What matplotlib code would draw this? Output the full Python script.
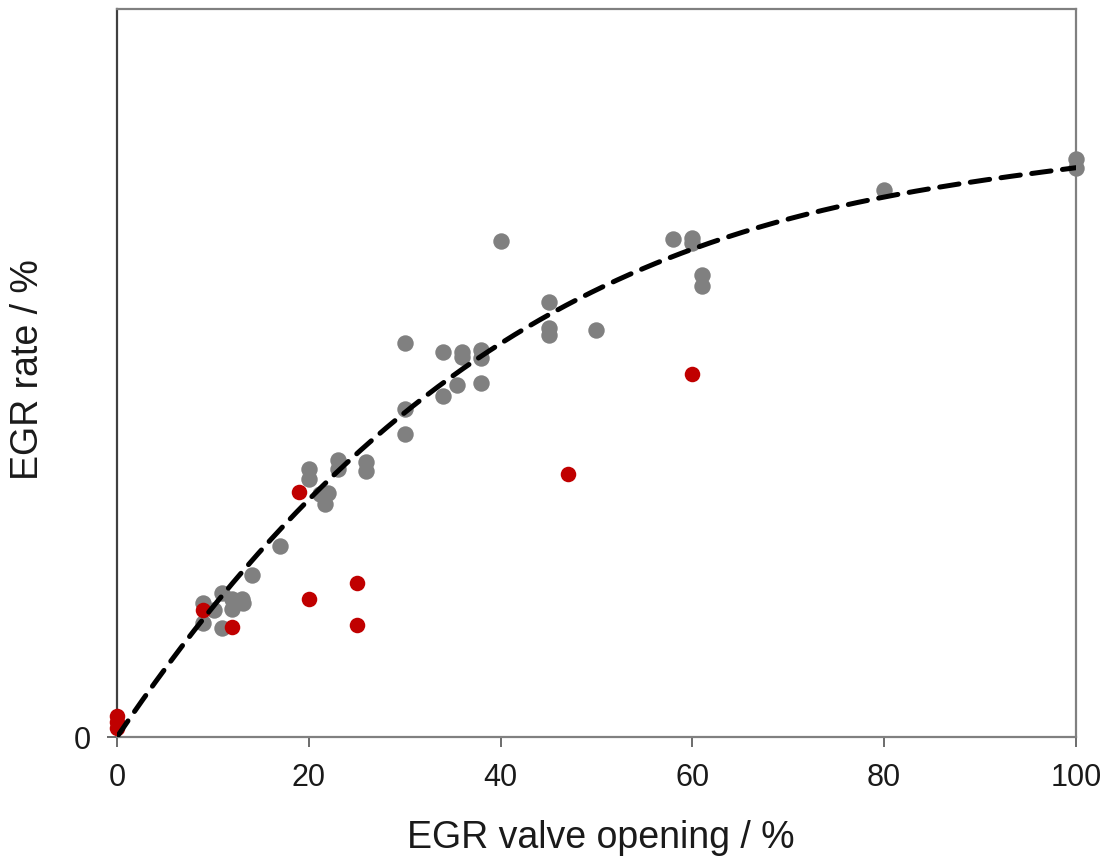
import numpy as np
import matplotlib.pyplot as plt

# measured points (valve opening %, EGR rate %)
grey_x = [9, 9, 10.1, 10.9, 10.9, 12, 13, 13.1, 12, 14.1, 17,
          20, 20, 21.2, 22, 21.7, 23, 23, 26, 26,
          30, 30, 30, 34, 36, 36, 38, 38, 35.5, 38, 34,
          40, 45, 45, 45, 50, 58, 60, 60, 61, 61, 80, 100, 100]
grey_y = [9.2, 7.85, 8.7, 9.87, 7.46, 9.45, 9.5, 9.2, 8.8, 11.1, 13.1,
          18.4, 17.75, 16.7, 16.75, 16.0, 19.0, 18.4, 18.9, 18.3,
          27.05, 22.5, 20.8, 26.45, 26.45, 26.1, 26.6, 26.0, 24.2, 24.3, 23.45,
          34.1, 29.9, 28.1, 27.6, 27.95, 34.2, 34.3, 33.9, 31.7, 31.0, 37.6, 39.7, 39.05]

red_x = [0, 0, 0, 9, 12, 19, 20, 25, 25, 47, 60]
red_y = [1.45, 1.0, 0.6, 8.7, 7.55, 16.85, 9.5, 10.6, 7.7, 18.05, 24.9]

# cubic trendline through the origin: y = a*x + b*x^2 + c*x^3
trend_a = 0.977
trend_b = -0.00865
trend_c = 2.79e-5

x_ticks = [0, 20, 40, 60, 80, 100]

plt.rcParams['font.family'] = ['Liberation Sans', 'DejaVu Sans']

fig = plt.figure(figsize=(11.12, 8.56), dpi=100)
ax = fig.add_axes([0.1052, 0.139, 0.8624, 0.8505])

ax.scatter(grey_x, grey_y, s=140, color='#808080', linewidths=0, zorder=2, clip_on=False)
ax.scatter(red_x, red_y, s=125, color='#c00000', linewidths=0, zorder=3, clip_on=False)

xs = np.linspace(0, 100, 300)
ys = trend_a * xs + trend_b * xs ** 2 + trend_c * xs ** 3
ax.plot(xs, ys, color='black', lw=3.6, ls=(0, (3.9, 2.3)),
        dash_capstyle='round', zorder=4)

ax.set_xlim(0, 100)
ax.set_ylim(0, 50)
ax.set_xticks(x_ticks)
ax.set_yticks([0])

for side in ['top', 'right', 'bottom']:
    ax.spines[side].set_color('#808080')
ax.spines['left'].set_color('#404040')
for sp in ax.spines.values():
    sp.set_linewidth(1.6)

ax.tick_params(axis='both', direction='out', length=7, width=1.3,
               color='#606060', labelsize=22, labelcolor='#1a1a1a', pad=12)

ax.set_xlabel('EGR valve opening / %', fontsize=27, color='#1a1a1a', va='top')
ax.set_ylabel('EGR rate / %', fontsize=27, color='#1a1a1a')
ax.xaxis.set_label_coords(0.505, -0.114)
ax.yaxis.set_label_coords(-0.074, 0.505)

fig.savefig('out.png', dpi=100, facecolor='white')
